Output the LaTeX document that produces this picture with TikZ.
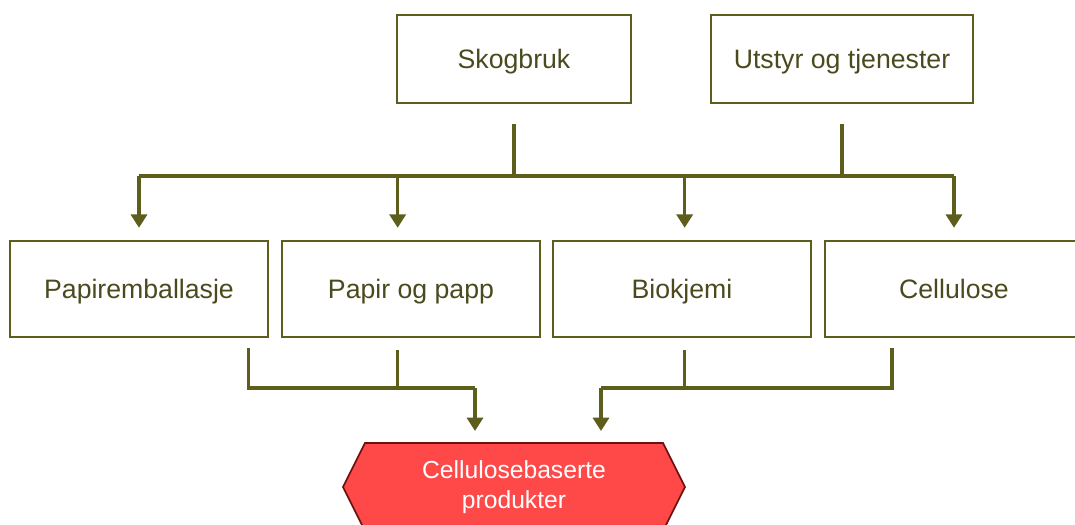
\documentclass[tikz,border=0pt]{standalone}
\usepackage{fontspec}
\setmainfont{Liberation Sans}
\usetikzlibrary{arrows.meta, positioning, calc}

\definecolor{olivine}{HTML}{5E5E1C}
\definecolor{olivetext}{HTML}{4A4A1E}
\definecolor{prodred}{HTML}{FF4848}
\definecolor{prodedge}{HTML}{6E1010}

\begin{document}
\begin{tikzpicture}[
    x=0.75pt, y=-0.75pt,
    font=\fontsize{20}{24}\selectfont,
    topbox/.style={draw=olivine, line width=1.8pt, text=olivetext, align=center, minimum height=66pt, text height=18pt, text depth=3.7pt},
    midbox/.style={draw=olivine, line width=1.8pt, text=olivetext, align=center, minimum width=193.5pt, minimum height=72pt, text height=18pt, text depth=3.7pt},
    prodtext/.style={text=white, align=center, font=\fontsize{18.5}{22.5}\selectfont},
    link/.style={draw=olivine, line width=2.4pt},
    arrow/.style={link, -{Triangle[width=12pt, length=10pt]}, shorten >=9pt}
]
  \useasboundingbox (0,0) rectangle (1075,525);
  \clip (0,0) rectangle (1075,525);

  % top row
  \node[topbox, minimum width=175.5pt] (skog) at (514,59) {Skogbruk};
  \node[topbox, minimum width=196.5pt] (utstyr) at (842,59) {Utstyr og tjenester};

  % middle row
  \node[midbox] (pemb) at (139,289) {Papiremballasje};
  \node[midbox] (papp) at (411,289) {Papir og papp};
  \node[midbox] (biok) at (682,289) {Biokjemi};
  \node[midbox] (cell) at (954,289) {Cellulose};

  % product
  \draw[draw=prodedge, fill=prodred, line width=1.2pt]
    (343,487) -- (365,443) -- (663,443) -- (685,487) -- (663,531) -- (365,531) -- cycle;
  \node[prodtext] (prod) at (514,487) {Cellulosebaserte\\produkter};

  \coordinate (busA) at (0,176);
  \coordinate (busB) at (0,388);
  \coordinate (inL) at (475,443);
  \coordinate (inR) at (601,443);

  % from the top row
  \draw[link] ([yshift=-15pt]skog.south) -- (skog.south |- busA);
  \draw[link] ([yshift=-15pt]utstyr.south) -- (utstyr.south |- busA);
  \draw[link] (pemb.north |- busA) -- (cell.north |- busA);
  \draw[arrow] (pemb.north |- busA) -- (pemb.north);
  \draw[arrow] ([xshift=-10pt]papp.north |- busA) -- ([xshift=-10pt]papp.north);
  \draw[arrow] ([xshift=2pt]biok.north |- busA) -- ([xshift=2pt]biok.north);
  \draw[arrow] (cell.north |- busA) -- (cell.north);

  % into the product
  \draw[link] ([xshift=82pt, yshift=-7.5pt]pemb.south) -- ([xshift=82pt]pemb.south |- busB) -| (inL |- busB);
  \draw[link] ([xshift=-10pt, yshift=-9pt]papp.south) -- ([xshift=-10pt]papp.south |- busB);
  \draw[arrow] (inL |- busB) -- (inL);
  \draw[link] ([xshift=-46.5pt, yshift=-7.5pt]cell.south) -- ([xshift=-46.5pt]cell.south |- busB) -| (inR |- busB);
  \draw[link] ([xshift=2pt, yshift=-9pt]biok.south) -- ([xshift=2pt]biok.south |- busB);
  \draw[arrow] (inR |- busB) -- (inR);
\end{tikzpicture}
\end{document}
